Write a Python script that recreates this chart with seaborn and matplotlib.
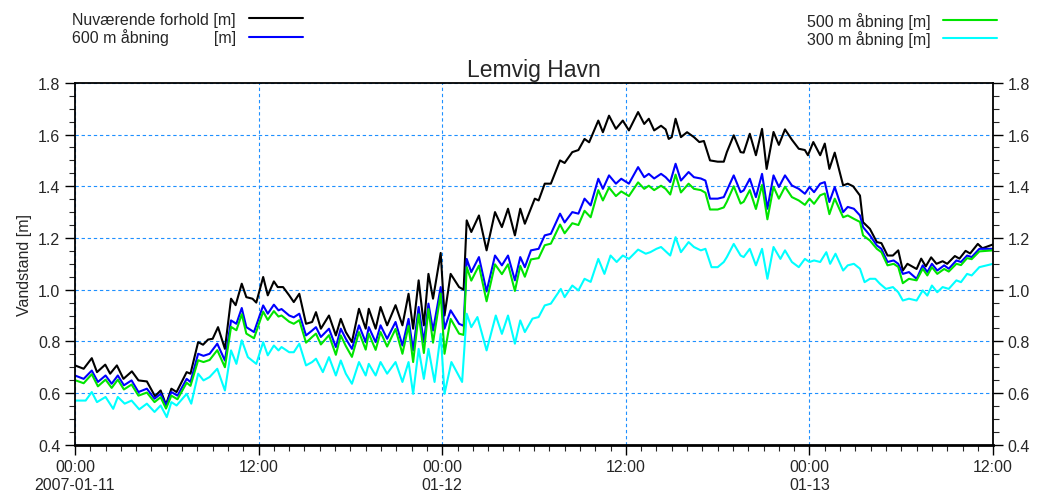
import numpy as np
import pandas as pd
import seaborn as sns
import matplotlib.pyplot as plt
from matplotlib.ticker import MultipleLocator

# hours after 2007-01-11 00:00, values in metres
hours_black = [0, 0.57, 1.1, 1.44, 1.98, 2.3, 2.74, 3.17, 3.72, 4.15,
               4.7, 5.23, 5.6, 5.95, 6.3, 6.64, 7.3, 7.55, 8.05, 8.37,
               8.7, 9.0, 9.35, 9.8, 10.2, 10.5, 10.9, 11.2, 11.6, 11.85,
               12.3, 12.6, 13.0, 13.25, 13.6, 14.0, 14.3, 14.66, 15.1, 15.5,
               15.75, 16.07, 16.6, 17.05, 17.37, 17.7, 18.1, 18.56, 19.0, 19.2,
               19.65, 19.97, 20.4, 20.95, 21.4, 21.8, 22.1, 22.46, 22.8, 23.1,
               23.4, 23.9, 24.15, 24.55, 25.1, 25.4, 25.6, 25.9, 26.4, 26.9,
               27.45, 27.9, 28.3, 28.75, 29.1, 29.4, 30.05, 30.3, 30.7, 31.1,
               31.7, 32.0, 32.5, 32.9, 33.3, 33.6, 34.2, 34.5, 34.9, 35.35,
               35.8, 36.2, 36.8, 37.2, 37.5, 37.85, 38.3, 38.6, 38.8, 39.0,
               39.25, 39.6, 40.0, 40.45, 40.8, 41.1, 41.5, 42.0, 42.4, 42.6,
               43.05, 43.5, 43.7, 44.1, 44.5, 44.9, 45.2, 45.65, 46.0, 46.4,
               46.85, 47.3, 47.7, 47.9, 48.25, 48.7, 49.0, 49.3, 49.65, 50.2,
               50.5, 50.85, 51.3, 51.5, 51.95, 52.4, 52.7, 53.1, 53.45, 53.8,
               54.1, 54.4, 55.0, 55.3, 55.6, 55.95, 56.3, 56.7, 57.0, 57.5,
               57.8, 58.2, 58.5, 59.0, 59.3, 60.0]
level_black = [.707, .694, .735, .681, .71, .675, .707, .655, .684, .649,
               .645, .588, .61, .555, .617, .604, .681, .675, .797, .787,
               .807, .81, .855, .771, .965, .94, 1.023, .971, .965, .95,
               1.049, .978, 1.032, 1.01, 1.01, .978, .952, .984, .868, .875,
               .913, .849, .90, .823, .887, .836, .797, .926, .849, .926,
               .849, .933, .862, .94, .862, .984, .849, 1.036, .862, 1.061,
               .965, 1.142, .90, 1.061, 1.01, 1.0, 1.268, 1.223, 1.287, 1.152,
               1.30, 1.242, 1.313, 1.21, 1.313, 1.255, 1.352, 1.345, 1.41, 1.41,
               1.50, 1.49, 1.532, 1.54, 1.583, 1.57, 1.654, 1.609, 1.673, 1.622,
               1.654, 1.616, 1.687, 1.641, 1.661, 1.616, 1.634, 1.62, 1.583, 1.59,
               1.661, 1.59, 1.609, 1.59, 1.571, 1.575, 1.50, 1.495, 1.495, 1.532,
               1.597, 1.532, 1.53, 1.603, 1.52, 1.622, 1.467, 1.61, 1.56, 1.62,
               1.58, 1.545, 1.54, 1.52, 1.571, 1.52, 1.565, 1.467, 1.53, 1.403,
               1.41, 1.40, 1.364, 1.261, 1.235, 1.184, 1.18, 1.132, 1.132, 1.152,
               1.074, 1.10, 1.08, 1.12, 1.09, 1.125, 1.10, 1.11, 1.10, 1.13,
               1.12, 1.15, 1.14, 1.177, 1.16, 1.175]

# 600 m and 500 m share the same time stamps
hours_600 = [0, 0.57, 1.1, 1.5, 2.0, 2.4, 2.8, 3.2, 3.7, 4.15, 4.7, 5.2, 5.6, 5.95, 6.3, 6.7, 7.3, 7.55,
             8.05, 8.4, 8.8, 9.3, 9.8, 10.2, 10.55, 10.9, 11.2, 11.7, 12.3, 12.6,
             13.0, 13.3, 13.5, 14.0, 14.3, 14.66, 15.1, 15.5, 15.75, 16.07, 16.6, 17.05,
             17.37, 17.7, 18.1, 18.56, 19.0, 19.2, 19.65, 19.97, 20.4, 20.95, 21.4,
             21.8, 22.1, 22.46, 22.8, 23.1, 23.4, 23.9, 24.15, 24.55, 25.1, 25.4,
             25.6, 25.9, 26.4, 26.9, 27.45, 27.9, 28.3, 28.75, 29.1, 29.4,
             29.8, 30.3, 30.7, 31.1, 31.7, 32.0, 32.5, 32.9, 33.3, 33.7, 34.2, 34.5,
             34.9, 35.35, 35.7, 36.2, 36.8,
             37.2, 37.5, 37.85, 38.3, 38.6, 38.9, 39.25, 39.6, 40.1, 40.45, 40.9, 41.2,
             41.5, 42.0, 42.4, 42.6, 43.05, 43.5, 43.7, 44.1, 44.5, 44.9, 45.25, 45.65,
             46.0, 46.4, 46.85, 47.3, 47.7, 48.0, 48.3, 48.7, 49.0, 49.3, 49.65,
             50.2, 50.5, 50.9, 51.3, 51.5, 51.95, 52.4, 52.7, 53.1, 53.5, 53.8, 54.1,
             54.5, 55.0, 55.4, 55.7, 56.0, 56.35, 56.8, 57.1, 57.6, 57.9, 58.3, 58.6, 59.1, 60.0]
level_600 = [.668, .655, .687, .643, .668, .636, .668, .63, .649, .604, .617, .578, .597, .553, .604, .59, .655, .643,
             .752, .744, .752, .791, .726, .881, .868, .929, .855, .836, .939, .907,
             .942, .92, .925, .90, .893, .907, .823, .842, .855, .817, .849, .778,
             .849, .81, .771, .862, .797, .855, .797, .862, .81, .875, .784,
             .887, .765, .933, .797, .946, .842, 1.01, .849, .92, .868, .86,
             1.119, 1.068, 1.126, .993, 1.132, 1.094, 1.132, 1.036, 1.126, 1.087,
             1.152, 1.158, 1.21, 1.216, 1.294, 1.26, 1.30, 1.294, 1.352, 1.326, 1.429, 1.39,
             1.442, 1.41, 1.429, 1.41, 1.474,
             1.435, 1.448, 1.43, 1.448, 1.435, 1.416, 1.487, 1.422, 1.455, 1.435, 1.43, 1.422,
             1.352, 1.352, 1.358, 1.384, 1.442, 1.377, 1.384, 1.429, 1.358, 1.448, 1.313, 1.442,
             1.397, 1.442, 1.403, 1.39, 1.371, 1.397, 1.377, 1.41, 1.416, 1.339, 1.397,
             1.30, 1.32, 1.313, 1.287, 1.242, 1.21, 1.171, 1.158, 1.107, 1.113, 1.10, 1.061,
             1.068, 1.042, 1.094, 1.068, 1.10, 1.074, 1.094, 1.081, 1.113, 1.107, 1.132, 1.126, 1.158, 1.158]
level_500 = [.650, .638, .673, .626, .652, .620, .652, .614, .633, .590, .602, .565, .584, .540, .590, .576, .640, .628,
             .727, .720, .728, .766, .700, .856, .843, .905, .830, .812, .915, .883,
             .917, .896, .900, .876, .868, .882, .795, .817, .830, .788, .824, .748,
             .823, .782, .740, .836, .768, .830, .767, .836, .780, .848, .752,
             .860, .720, .905, .755, .925, .795, .985, .752, .887, .830, .825,
             1.087, 1.035, 1.093, .955, 1.098, 1.060, 1.098, .995, 1.092, 1.050,
             1.117, 1.122, 1.172, 1.178, 1.252, 1.218, 1.257, 1.250, 1.305, 1.280, 1.385, 1.345,
             1.395, 1.362, 1.380, 1.362, 1.415,
             1.390, 1.402, 1.385, 1.402, 1.390, 1.368, 1.445, 1.376, 1.410, 1.390, 1.385, 1.375,
             1.310, 1.310, 1.318, 1.340, 1.400, 1.333, 1.340, 1.385, 1.312, 1.405, 1.272, 1.398,
             1.352, 1.398, 1.358, 1.345, 1.328, 1.352, 1.332, 1.365, 1.372, 1.292, 1.352,
             1.280, 1.287, 1.274, 1.262, 1.210, 1.190, 1.158, 1.145, 1.094, 1.100, 1.088, 1.025,
             1.042, 1.036, 1.081, 1.055, 1.087, 1.061, 1.080, 1.070, 1.100, 1.095, 1.122, 1.118, 1.148, 1.152]

hours_300 = [0, 0.7, 1.1, 1.44, 2.0, 2.5, 2.8, 3.25, 3.7, 4.2,
             4.7, 5.2, 5.6, 6.0, 6.3, 6.64, 7.3, 7.6, 8.05, 8.4,
             8.8, 9.3, 9.8, 10.2, 10.55, 10.9, 11.3, 11.85, 12.3, 12.6,
             13.0, 13.3, 13.5, 14.0, 14.3, 14.66, 15.1, 15.5, 15.75, 16.2,
             16.6, 17.05, 17.37, 17.7, 18.1, 18.56, 19.0, 19.2, 19.65, 19.97,
             20.4, 20.95, 21.4, 21.8, 22.1, 22.46, 22.8, 23.1, 23.5, 23.9,
             24.15, 24.6, 25.3, 25.6, 25.9, 26.3, 26.9, 27.5, 27.9, 28.3,
             28.75, 29.1, 29.4, 29.9, 30.3, 30.7, 31.1, 31.75, 32.0, 32.5,
             32.9, 33.3, 33.7, 34.2, 34.6, 35.0, 35.4, 35.8, 36.2, 36.8,
             37.3, 37.6, 38.0, 38.3, 38.9, 39.25, 39.6, 40.1, 40.45, 40.9,
             41.2, 41.6, 42.0, 42.4, 42.6, 43.05, 43.5, 43.7, 44.1, 44.5,
             44.9, 45.25, 45.65, 46.1, 46.4, 46.85, 47.3, 47.7, 48.0, 48.3,
             48.7, 49.1, 49.35, 49.7, 50.2, 50.5, 50.9, 51.3, 51.6, 51.95,
             52.3, 52.6, 53.0, 53.45, 53.8, 54.1, 54.5, 55.0, 55.4, 55.7,
             56.0, 56.35, 56.7, 57.1, 57.6, 57.9, 58.3, 58.6, 59.1, 60.0]
level_300 = [.571, .571, .604, .565, .585, .539, .585, .559, .571, .537,
             .559, .527, .552, .507, .565, .552, .597, .559, .675, .649,
             .662, .694, .61, .765, .713, .804, .739, .713, .797, .746,
             .784, .765, .778, .758, .758, .791, .707, .72, .733, .681,
             .739, .668, .726, .675, .636, .72, .668, .713, .668, .72,
             .675, .72, .643, .72, .597, .771, .655, .771, .643, .829,
             .597, .72, .643, .907, .855, .894, .765, .90, .829, .90,
             .791, .881, .836, .888, .894, .939, .946, 1.003, .971, 1.016,
             .997, 1.042, 1.03, 1.119, 1.061, 1.132, 1.107, 1.132, 1.119, 1.155,
             1.139, 1.145, 1.158, 1.165, 1.132, 1.203, 1.145, 1.184, 1.165, 1.152,
             1.158, 1.087, 1.087, 1.107, 1.126, 1.177, 1.132, 1.126, 1.158, 1.094,
             1.158, 1.042, 1.165, 1.119, 1.152, 1.107, 1.087, 1.119, 1.107, 1.113,
             1.107, 1.145, 1.10, 1.139, 1.074, 1.094, 1.10, 1.081, 1.029, 1.042,
             1.042, 1.023, 1.003, 1.01, .99, .958, .965, .958, .997, .977,
             1.016, .99, 1.01, 1.003, 1.036, 1.029, 1.061, 1.055, 1.087, 1.10]

series_names = ['Nuværende forhold [m]', '600 m åbning          [m]',
                '500 m åbning [m]', '300 m åbning [m]']
series_colors = ['#000000', '#0000ff', '#00e400', '#00ffff']
x_tick_hours = [0, 12, 24, 36, 48, 60]
x_tick_labels = ['00:00\n2007-01-11', '12:00', '00:00\n01-12',
                 '12:00', '00:00\n01-13', '12:00']

sns.set_style('white')
plt.rcParams['font.family'] = ['Liberation Sans', 'DejaVu Sans']

frames = []
for name, h, v in zip(series_names,
                      [hours_black, hours_600, hours_600, hours_300],
                      [level_black, level_600, level_500, level_300]):
    frames.append(pd.DataFrame({'hour': h, 'level': v, 'serie': name}))
df = pd.concat(frames, ignore_index=True)

fig = plt.figure(figsize=(10.41, 5.02), dpi=100)
ax = fig.add_axes([0.072, 0.112, 0.882, 0.721])

for name, col in zip(series_names, series_colors):
    sns.lineplot(data=df[df.serie == name], x='hour', y='level', color=col,
                 lw=1.5, estimator=None, sort=False, legend=False, ax=ax)

ax.set_xlim(0, 60)
ax.set_ylim(0.4, 1.8)
ax.set_xticks(x_tick_hours)
ax.set_xticklabels(x_tick_labels)
ax.xaxis.set_minor_locator(MultipleLocator(1))
ax.yaxis.set_major_locator(MultipleLocator(0.2))
ax.yaxis.set_minor_locator(MultipleLocator(0.05))
ax.set_yticklabels([f'{t:.1f}' for t in ax.get_yticks()])
ax.tick_params(axis='both', which='major', direction='out', length=7, width=1,
               labelsize=11.5, color='black')
ax.tick_params(axis='both', which='minor', direction='out', length=4, width=0.8)
ax.tick_params(axis='y', which='both', right=True, labelright=True, left=True)
ax.tick_params(axis='x', which='both', bottom=True)
ax.grid(True, which='major', color='#1e90ff', linestyle=(0, (3, 2.5)), lw=0.8)
for sp in ax.spines.values():
    sp.set_color('black')
    sp.set_linewidth(1.3)
ax.spines['bottom'].set_linewidth(2)

ax.set_xlabel('')
ax.set_ylabel('Vandstand [m]', fontsize=11.5)
ax.set_title('Lemvig Havn', fontsize=16.5, pad=5)

handles = ax.get_lines()[:4]
leg_kw = dict(markerfirst=False, frameon=False, fontsize=11.5, handlelength=3.4,
              handletextpad=0.8, labelspacing=0.1, borderpad=0, borderaxespad=0)
fig.legend(handles[:2], series_names[:2], loc='upper left',
           bbox_to_anchor=(0.069, 0.975), **leg_kw)
fig.legend(handles[2:], series_names[2:], loc='upper right',
           bbox_to_anchor=(0.958, 0.975), **leg_kw)

fig.savefig('out.png', dpi=100)
